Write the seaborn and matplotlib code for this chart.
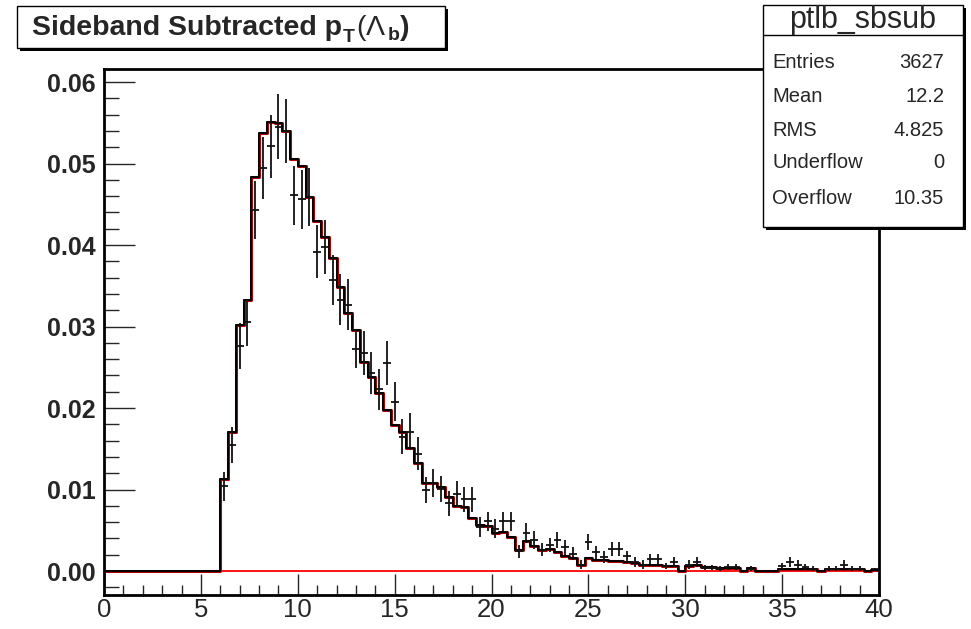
import numpy as np
import pandas as pd
import matplotlib
matplotlib.use("Agg")
import matplotlib.pyplot as plt
from matplotlib.patches import Rectangle
from matplotlib.ticker import MultipleLocator, FormatStrFormatter
import seaborn as sns

# ---------------- data ----------------
n_bins = 100
x_min, x_max = 0.0, 40.0

# MC / reference histogram contents (bins 0..99, width 0.4)
mc_values = [0.0] * 15 + [
    0.0113, 0.0170, 0.0302, 0.0333, 0.0483, 0.0538, 0.0551, 0.0550, 0.0540, 0.0506,
    0.0497, 0.0459, 0.0429, 0.0410, 0.0384, 0.0348, 0.0316, 0.0296, 0.0257, 0.0238,
    0.0219, 0.0198, 0.0179, 0.0171, 0.0151, 0.0133, 0.0108, 0.0108, 0.0103, 0.0091,
    0.0080, 0.0078, 0.0065, 0.0056, 0.0055, 0.0047, 0.0048, 0.0042, 0.0026, 0.0037,
    0.0031, 0.0026, 0.0027, 0.0023, 0.0019, 0.0016, 0.0007, 0.0016, 0.0014, 0.0014,
    0.0012, 0.0012, 0.0011, 0.0010, 0.0008, 0.0008, 0.0007, 0.0006, 0.0006, 0.0,
    0.0006, 0.0007, 0.00045, 0.00045, 0.0004, 0.0004, 0.0004, 0.0, 0.0004, 0.0,
    0.0, 0.0, 0.0003, 0.0002, 0.0003, 0.00025, 0.0002, 0.0, 0.0002, 0.0002,
    0.0002, 0.0003, 0.0002, 0.0, 0.00015,
]

# sideband-subtracted data points (bins 0..99)
data_values = [0.0] * 15 + [
    0.0104, 0.0155, 0.0276, 0.0305, 0.0443, 0.0495, 0.0521, 0.0545, 0.0540, 0.0461,
    0.0456, 0.0459, 0.0392, 0.0398, 0.0357, 0.0333, 0.0327, 0.0273, 0.0267, 0.0243,
    0.0223, 0.0255, 0.0208, 0.0165, 0.0171, 0.0144, 0.0099, 0.0108, 0.0101, 0.0083,
    0.0095, 0.0088, 0.0088, 0.0054, 0.0061, 0.0052, 0.0061, 0.0061, 0.0024, 0.0047,
    0.0038, 0.0026, 0.0032, 0.0038, 0.0029, 0.0021, 0.0008, 0.0036, 0.0023, 0.0017,
    0.0027, 0.0027, 0.0018, 0.0011, 0.0008, 0.0015, 0.0015, 0.0006, 0.0011, 0.0,
    0.0008, 0.0011, 0.0004, 0.0004, 0.0003, 0.0005, 0.0005, 0.0, 0.0003, 0.0,
    0.0, 0.0, 0.0006, 0.0011, 0.0008, 0.0005, 0.0003, 0.0, 0.0003, 0.0003,
    0.0008, 0.0003, 0.0003, 0.0, 0.0002,
]
data_errors = [0.0] * 15 + [
    0.0018, 0.0022, 0.0028, 0.0029, 0.0036, 0.0038, 0.0039, 0.0040, 0.0039, 0.0036,
    0.0036, 0.0036, 0.0033, 0.0033, 0.0031, 0.0031, 0.0031, 0.0024, 0.0027, 0.0026,
    0.0025, 0.0027, 0.0024, 0.0021, 0.0023, 0.0020, 0.0016, 0.0017, 0.0016, 0.0015,
    0.0016, 0.0015, 0.0015, 0.0012, 0.0012, 0.0012, 0.0012, 0.0012, 0.0008, 0.0012,
    0.0011, 0.0008, 0.0009, 0.0010, 0.0009, 0.0008, 0.0005, 0.0010, 0.0008, 0.0007,
    0.0009, 0.0009, 0.0007, 0.0006, 0.0005, 0.0006, 0.0006, 0.0004, 0.0006, 0.0,
    0.0005, 0.0006, 0.0003, 0.0003, 0.0003, 0.0004, 0.0004, 0.0, 0.0003, 0.0,
    0.0, 0.0, 0.0004, 0.0006, 0.0005, 0.0004, 0.0003, 0.0, 0.0003, 0.0003,
    0.0005, 0.0003, 0.0003, 0.0, 0.0002,
]

title_main = "Sideband Subtracted p"
title_sub1 = "T"
title_mid = r"($\Lambda$"
title_sub2 = "b"
title_end = ")"
stats_name = "ptlb_sbsub"
stats_labels = ["Entries", "Mean", "RMS", "Underflow", "Overflow"]
stats_values = ["3627", "12.2", "4.825", "0", "10.35"]

# ---------------- build ----------------
edges = np.linspace(x_min, x_max, n_bins + 1)
centers = 0.5 * (edges[:-1] + edges[1:])
half_width = 0.5 * (edges[1] - edges[0])
df = pd.DataFrame({"x": centers, "mc": mc_values, "data": data_values, "err": data_errors})

sns.set_theme(style="white")
plt.rcParams["font.family"] = ["Liberation Sans", "DejaVu Sans"]
plt.rcParams["mathtext.fontset"] = "custom"
plt.rcParams["mathtext.rm"] = "Liberation Sans"
plt.rcParams["mathtext.it"] = "Liberation Sans"
plt.rcParams["mathtext.bf"] = "Liberation Sans:bold"

W, H = 971, 629
fig = plt.figure(figsize=(W / 100, H / 100), dpi=100)
fig.patch.set_facecolor("white")

L, R, T, B = 104, 879, 69, 595
ax = fig.add_axes([L / W, 1 - B / H, (R - L) / W, (B - T) / H])

# red copy underneath
sns.histplot(data=df, x="x", weights="mc", bins=n_bins, binrange=(x_min, x_max),
             element="step", fill=False, color="#b00000", linewidth=2.2, ax=ax)
# red zero line of the second histogram
ax.plot([6.0, x_max], [0, 0], color="#ff0000", lw=1.3, zorder=1)
# black histogram on top
sns.histplot(data=df, x="x", weights="mc", bins=n_bins, binrange=(x_min, x_max),
             element="step", fill=False, color="black", linewidth=1.4, ax=ax)

pts = df[df["data"] > 0]
ax.errorbar(pts["x"], pts["data"], yerr=pts["err"], xerr=half_width, fmt="none",
            ecolor="#111111", elinewidth=1.3, capsize=0, zorder=5)

ax.set_xlim(x_min, x_max)
ax.set_ylim(-0.00294, 0.0616)
ax.set_xlabel("")
ax.set_ylabel("")

ax.xaxis.set_major_locator(MultipleLocator(5))
ax.xaxis.set_minor_locator(MultipleLocator(1))
ax.yaxis.set_major_locator(MultipleLocator(0.01))
ax.yaxis.set_minor_locator(MultipleLocator(0.002))
ax.yaxis.set_major_formatter(FormatStrFormatter("%.2f"))

ax.tick_params(axis="x", which="major", direction="in", length=15, width=1.0,
               labelsize=18.5, pad=2, bottom=True, top=False)
ax.tick_params(axis="x", which="minor", direction="in", length=7, width=1.0,
               bottom=True, top=False)
ax.tick_params(axis="y", which="major", direction="in", length=22, width=1.0,
               labelsize=18, pad=6, left=True, right=False)
ax.tick_params(axis="y", which="minor", direction="in", length=11, width=1.0,
               left=True, right=False)
for lab in ax.get_yticklabels():
    lab.set_fontweight("bold")
for sp in ax.spines.values():
    sp.set_linewidth(2.0)
    sp.set_color("black")
    sp.set_visible(True)


def fx(px):
    return px / W


def fy(py):
    return 1 - py / H


def box(x0, y0, x1, y1, shadow=3):
    fig.patches.append(Rectangle((fx(x0 + shadow), fy(y1 + shadow)), fx(x1 - x0), (y1 - y0) / H,
                                 transform=fig.transFigure, facecolor="black",
                                 edgecolor="black", lw=0, zorder=10))
    fig.patches.append(Rectangle((fx(x0), fy(y1)), fx(x1 - x0), (y1 - y0) / H,
                                 transform=fig.transFigure, facecolor="white",
                                 edgecolor="black", lw=1.0, zorder=11))


# title box
box(17, 6, 445, 48)
fig.canvas.draw()
renderer = fig.canvas.get_renderer()
base_y = fy(35)
cur_x = 32
parts = [
    (title_main, 20.5, 0, "bold"),
    (title_sub1, 14, 7, "bold"),
    (title_mid, 20.5, 0, "normal"),
    (title_sub2, 14, 5, "bold"),
    (title_end, 20.5, 0, "bold"),
]
for txt, size, drop, weight in parts:
    t = fig.text(fx(cur_x), fy(35 + drop), txt, ha="left", va="baseline", fontsize=size,
                 fontweight=weight, zorder=12)
    bb = t.get_window_extent(renderer=renderer)
    cur_x += bb.width + 1

# stats box
box(763, 5, 963, 227)
fig.add_artist(plt.Line2D([fx(763), fx(963)], [fy(35), fy(35)], transform=fig.transFigure,
                          color="black", lw=1.0, zorder=12))
fig.text(fx(863), fy(20), stats_name, ha="center", va="center", fontsize=22, zorder=12)
row_y = [62, 97, 130, 163, 198]
for lab, val, yy in zip(stats_labels, stats_values, row_y):
    fig.text(fx(772), fy(yy), lab, ha="left", va="center", fontsize=14.5, zorder=12)
    fig.text(fx(944), fy(yy), val, ha="right", va="center", fontsize=14.5, zorder=12)

fig.savefig("out.png", dpi=100)
